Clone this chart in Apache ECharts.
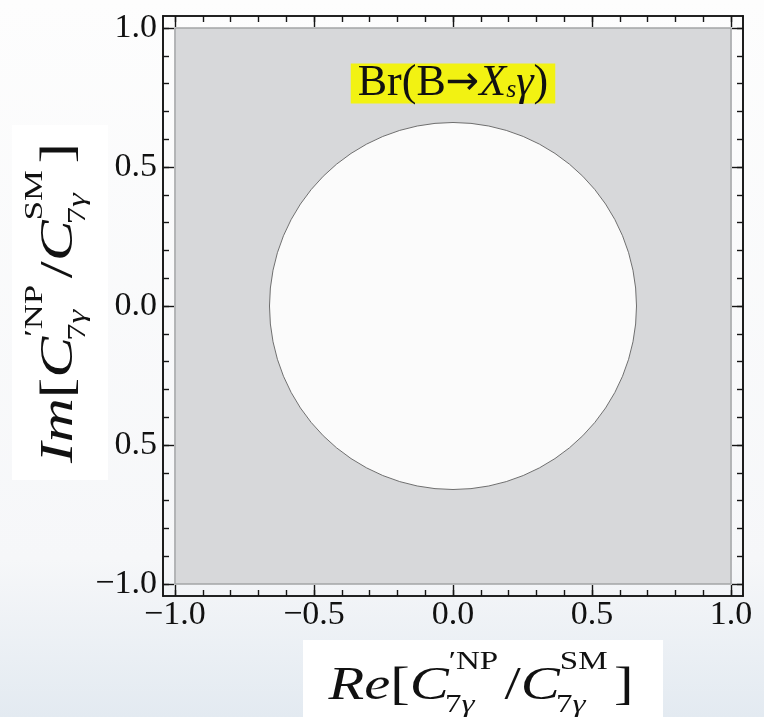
<!DOCTYPE html>
<html>
<head>
<meta charset="utf-8">
<script src="https://cdn.jsdelivr.net/npm/echarts@6/dist/echarts.min.js"></script>
<style>
html, body { margin: 0; padding: 0; background: #fff; }
#main { width: 764px; height: 717px; }
</style>
</head>
<body>
<div id="main"></div>
<script>
// ticks / labels
var majorTicks = [-1.0, -0.5, 0.0, 0.5, 1.0];
var minorTicks = [-1.0, -0.9, -0.8, -0.7, -0.6, -0.5, -0.4, -0.3, -0.2, -0.1, 0.0,
                  0.1, 0.2, 0.3, 0.4, 0.5, 0.6, 0.7, 0.8, 0.9, 1.0];
var xTickLabels = ['\u22121.0', '\u22120.5', '0.0', '0.5', '1.0'];
var yTickLabels = ['\u22121.0', '0.5', '0.0', '0.5', '1.0'];   // as printed on the plot
var axisMin = -1.043, axisMax = 1.043;

// excluded region (grey square) and allowed disc (white)
var regionX = [-1.0, 1.0];
var regionY = [-1.0, 1.0];
var circleCenter = [0.0, 0.0];
var circleRadius = 0.66;
var labelPos = [0.0, 0.80];

var SERIF = '"Liberation Serif", "DejaVu Serif", serif';
var chart = echarts.init(document.getElementById('main'));

function tickLabel(list) {
    return function (v) {
        for (var i = 0; i < majorTicks.length; i++) {
            if (Math.abs(v - majorTicks[i]) < 1e-6) return list[i];
        }
        return '';
    };
}

function axis(type, pos, ticks, len, labels) {
    return {
        type: 'value',
        position: pos,
        min: axisMin,
        max: axisMax,
        axisLine: { show: true, onZero: false, lineStyle: { color: '#151515', width: 1.6 } },
        axisTick: { show: true, inside: true, length: len, customValues: ticks,
                    lineStyle: { color: '#151515', width: 1.4 } },
        axisLabel: labels ? {
            show: true, customValues: majorTicks, formatter: tickLabel(labels),
            margin: type == 'x' ? 2 : 6, color: '#111', fontFamily: SERIF, fontSize: 34
        } : { show: false },
        splitLine: { show: false }
    };
}

// text measuring for the formula titles
var ctx = document.createElement('canvas').getContext('2d');
function tw(t, size, it) {
    ctx.font = (it ? 'italic ' : '') + size + 'px ' + SERIF;
    return ctx.measureText(t).width;
}

function formula(head) {
    var B = 46, S = 26, up = -31, dn = 12;
    var kids = [];
    var x = 0;
    function put(t, size, it, base, px) {
        kids.push({
            type: 'text', x: px, y: base - 0.33 * size,
            style: { text: t, font: (it ? 'italic ' : '') + size + 'px ' + SERIF,
                     fill: '#111', align: 'left', verticalAlign: 'middle' }
        });
        return tw(t, size, it);
    }
    function scripts(sup, sub) {
        var a = 0, b = 0, xs = x;
        sup.forEach(function (p) { a += put(p[0], S, p[1], up, xs + a); });
        sub.forEach(function (p) { b += put(p[0], S, p[1], dn, xs - 3 + b); });
        x += Math.max(a, b) + 5;
    }
    x += put(head, B, true, 0, x);
    x += put('[', B, false, 0, x);
    x += put('C', B, true, 0, x);
    scripts([['\u2032', false], ['NP', false]], [['7', false], ['\u03b3', true]]);
    x += put('/', B, false, 0, x);
    x += put('C', B, true, 0, x);
    scripts([['SM', false]], [['7', false], ['\u03b3', true]]);
    x += put(']', B, false, 0, x);
    return { kids: kids, width: x };
}

var fx = formula('Re');
var fy = formula('Im');
var sx = 305 / fx.width;     // computer-modern is wider than Times
var sy = 320 / fy.width;

var option = {
    backgroundColor: {
        type: 'linear', x: 0, y: 0, x2: 0, y2: 1,
        colorStops: [
            { offset: 0, color: '#fdfdfd' },
            { offset: 0.78, color: '#f6f7f9' },
            { offset: 1, color: '#e3eaf1' }
        ]
    },
    animation: false,
    grid: { left: 163, top: 16, width: 580, height: 580 },
    xAxis: [
        axis('x', 'bottom', majorTicks, 11, xTickLabels),
        axis('x', 'bottom', minorTicks, 6, null),
        axis('x', 'top', majorTicks, 11, null),
        axis('x', 'top', minorTicks, 6, null)
    ],
    yAxis: [
        axis('y', 'left', majorTicks, 11, yTickLabels),
        axis('y', 'left', minorTicks, 6, null),
        axis('y', 'right', majorTicks, 11, null),
        axis('y', 'right', minorTicks, 6, null)
    ],
    graphic: [
        { type: 'rect', left: 303, top: 640, shape: { width: 360, height: 77 },
          style: { fill: '#ffffff' }, z: 0 },
        { type: 'rect', left: 12, top: 125, shape: { width: 96, height: 355 },
          style: { fill: '#ffffff' }, z: 0 },
        { type: 'group', x: 481 - fx.width * sx / 2, y: 702, scaleX: sx,
          children: fx.kids, z: 5 },
        { type: 'group', x: 75, y: 303 + fy.width * sy / 2, rotation: Math.PI / 2, scaleX: sy,
          children: fy.kids, z: 5 }
    ],
    series: [
        {
            type: 'custom', silent: true, z: 1,
            data: [[regionX[0], regionY[0], regionX[1], regionY[1]]],
            renderItem: function (params, api) {
                var p0 = api.coord([api.value(0), api.value(1)]);
                var p1 = api.coord([api.value(2), api.value(3)]);
                return {
                    type: 'rect',
                    shape: { x: p0[0], y: p1[1], width: p1[0] - p0[0], height: p0[1] - p1[1] },
                    style: { fill: '#d7d8da', stroke: '#a4a5a7', lineWidth: 1.5 }
                };
            }
        },
        {
            type: 'custom', silent: true, z: 2,
            data: [[circleCenter[0], circleCenter[1], circleRadius]],
            renderItem: function (params, api) {
                var c = api.coord([api.value(0), api.value(1)]);
                var r = api.size([api.value(2), api.value(2)])[0];
                return {
                    type: 'circle',
                    shape: { cx: c[0], cy: c[1], r: r },
                    style: { fill: '#fbfbfb', stroke: '#6f6f6f', lineWidth: 1 }
                };
            }
        },
        {
            type: 'custom', silent: true, z: 3,
            data: [labelPos],
            renderItem: function (params, api) {
                var p = api.coord([api.value(0), api.value(1)]);
                return {
                    type: 'text', x: p[0], y: p[1],
                    style: {
                        text: '{a|Br(B}{r|\u2192}{i|X}{s|s}{i|\u03b3}{a|)}',
                        align: 'center', verticalAlign: 'middle',
                        backgroundColor: '#f2f212', padding: [0, 7, 0, 7],
                        rich: {
                            a: { fontFamily: SERIF, fontSize: 44, lineHeight: 40, fill: '#111' },
                            r: { fontFamily: '"DejaVu Sans"', fontSize: 40, lineHeight: 40, fill: '#111' },
                            i: { fontFamily: SERIF, fontSize: 44, lineHeight: 40, fontStyle: 'italic', fill: '#111' },
                            s: { fontFamily: SERIF, fontSize: 26, lineHeight: 14, fontStyle: 'italic',
                                 verticalAlign: 'bottom', fill: '#111' }
                        }
                    }
                };
            }
        }
    ]
};

chart.setOption(option);
</script>
</body>
</html>
